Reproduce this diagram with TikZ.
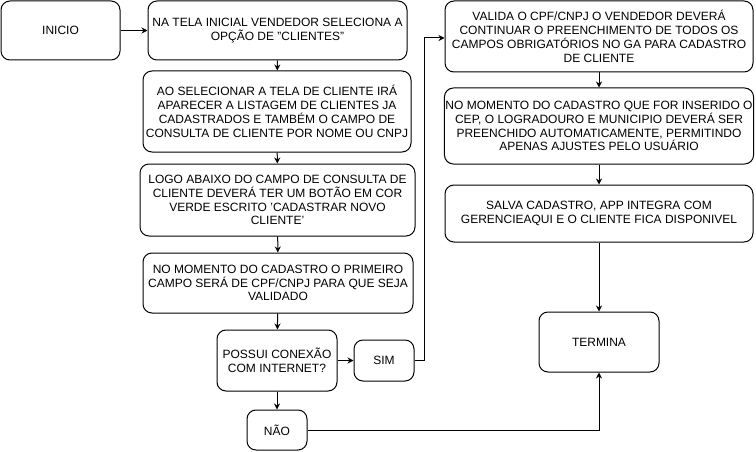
\documentclass[tikz,border=0pt]{standalone}
\usepackage{fontspec}
\setmainfont{Liberation Sans}
\usetikzlibrary{arrows.meta, positioning}

\begin{document}
\begin{tikzpicture}[
	x=1pt,
	y=-1pt,
	etapa/.style={
		draw,
		rounded corners=9pt,
		line width=1pt,
		align=center,
		inner sep=1pt,
		font=\fontsize{12}{13.8}\selectfont
	},
	fluxo/.style={
		-{Stealth[length=6pt,width=6pt]},
		line width=1pt
	}
]
	\useasboundingbox (0,0) rectangle (756,452);
	% coluna da esquerda
	\node[
		etapa,
		minimum width=119pt,
		minimum height=59pt
	] (inicio) at (60.5,30.5) {INICIO};
	\node[
		etapa,
		minimum width=259pt,
		minimum height=59pt
	] (opcao) at (277.5,30.5) {NA TELA INICIAL VENDEDOR SELECIONA A\\OPÇÃO DE "CLIENTES"};
	\node[
		etapa,
		minimum width=268pt,
		minimum height=81pt
	] (listagem) at (277,111.5) {AO SELECIONAR A TELA DE CLIENTE IRÁ\\APARECER A LISTAGEM DE CLIENTES JA\\CADASTRADOS E TAMBÉM O CAMPO DE\\CONSULTA DE CLIENTE POR NOME OU CNPJ};
	\node[
		etapa,
		minimum width=275pt,
		minimum height=72pt
	] (botao) at (277.5,200) {LOGO ABAIXO DO CAMPO DE CONSULTA DE\\CLIENTE DEVERÁ TER UM BOTÃO EM COR\\VERDE ESCRITO 'CADASTRAR NOVO\\CLIENTE'};
	\node[
		etapa,
		minimum width=270pt,
		minimum height=60pt
	] (campo) at (278,283) {NO MOMENTO DO CADASTRO O PRIMEIRO\\CAMPO SERÁ DE CPF/CNPJ PARA QUE SEJA\\VALIDADO};
	\node[
		etapa,
		minimum width=120pt,
		minimum height=61pt
	] (conexao) at (277,360.5) {POSSUI CONEXÃO\\COM INTERNET?};
	\node[
		etapa,
		minimum width=60pt,
		minimum height=41pt
	] (sim) at (384,360.5) {SIM};
	\node[
		etapa,
		minimum width=60pt,
		minimum height=40pt
	] (nao) at (277,430) {NÃO};
	% coluna da direita
	\node[
		etapa,
		minimum width=308pt,
		minimum height=71pt
	] (valida) at (599,36.5) {VALIDA O CPF/CNPJ O VENDEDOR DEVERÁ\\CONTINUAR O PREENCHIMENTO DE TODOS OS\\CAMPOS OBRIGATÓRIOS NO GA PARA CADASTRO\\DE CLIENTE};
	\node[
		etapa,
		minimum width=308pt,
		minimum height=76pt
	] (cep) at (599,126) {NO MOMENTO DO CADASTRO QUE FOR INSERIDO O\\CEP, O LOGRADOURO E MUNICIPIO DEVERÁ SER\\PREENCHIDO AUTOMATICAMENTE, PERMITINDO\\APENAS AJUSTES PELO USUÁRIO};
	\node[
		etapa,
		minimum width=308pt,
		minimum height=57pt
	] (salva) at (599,213.5) {SALVA CADASTRO, APP INTEGRA COM\\GERENCIEAQUI E O CLIENTE FICA DISPONIVEL};
	\node[
		etapa,
		minimum width=120pt,
		minimum height=60pt
	] (termina) at (599,342) {TERMINA};
	% ligacoes
	\draw[fluxo] (inicio) -- (opcao);
	\draw[fluxo] (opcao) -- (listagem);
	\draw[fluxo] (listagem) -- (botao);
	\draw[fluxo] (botao) -- (campo);
	\draw[fluxo] (campo) -- (conexao);
	\draw[fluxo] (conexao) -- (sim);
	\draw[fluxo] (conexao) -- (nao);
	\draw[fluxo] (sim.east) -- ++(10,0) |- ([yshift=-1.5pt]valida.west);
	\draw[fluxo] (valida) -- (cep);
	\draw[fluxo] (cep) -- (salva);
	\draw[fluxo] (salva) -- (termina);
	\draw[fluxo] (nao.east) -| (termina.south);
\end{tikzpicture}
\end{document}
